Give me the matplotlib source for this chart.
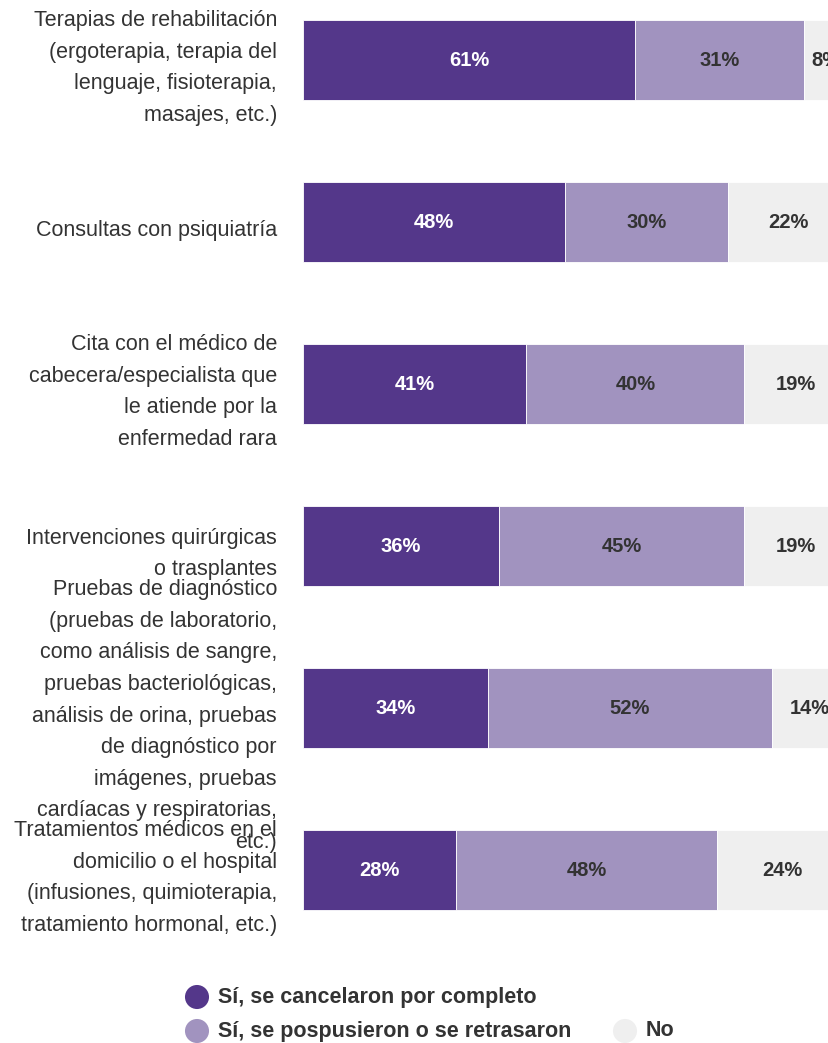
import matplotlib; matplotlib.use("Agg")
import matplotlib.pyplot as plt
import matplotlib.transforms as mtransforms

plt.rcParams["font.family"] = ["Liberation Sans", "DejaVu Sans"]

categories = [
    "Terapias de rehabilitación\n(ergoterapia, terapia del\nlenguaje, fisioterapia,\nmasajes, etc.)",
    "Consultas con psiquiatría",
    "Cita con el médico de\ncabecera/especialista que\nle atiende por la\nenfermedad rara",
    "Intervenciones quirúrgicas\no trasplantes",
    "Pruebas de diagnóstico\n(pruebas de laboratorio,\ncomo análisis de sangre,\npruebas bacteriológicas,\nanálisis de orina, pruebas\nde diagnóstico por\nimágenes, pruebas\ncardíacas y respiratorias,\netc.)",
    "Tratamientos médicos en el\ndomicilio o el hospital\n(infusiones, quimioterapia,\ntratamiento hormonal, etc.)",
]
cancelled = [61, 48, 41, 36, 34, 28]
postponed = [31, 30, 40, 45, 52, 48]
no = [8, 22, 19, 19, 14, 24]
series_names = ["Sí, se cancelaron por completo", "Sí, se pospusieron o se retrasaron", "No"]

DARK = "#54378a"; LIGHT = "#a193bf"; GREY = "#efefef"; TXT = "#333333"
W, H = 829, 1043
fig = plt.figure(figsize=(W / 100, H / 100), dpi=100)

# bars axes, in pixel placement (100% runs past the right edge like the original)
x0, pw = 303, 545
ytop, ybot = -21, 951
ax = fig.add_axes([x0 / W, 1 - ybot / H, pw / W, (ybot - ytop) / H])
ax.set_xlim(0, 100)
ax.set_ylim(len(categories) - 0.5, -0.5)
ax.axis("off")

ys = list(range(len(categories)))
left = [0] * len(ys)
for vals, col, tc in [(cancelled, DARK, "white"), (postponed, LIGHT, TXT), (no, GREY, TXT)]:
    ax.barh(ys, vals, left=left, height=0.494, color=col, edgecolor="white", linewidth=0.6)
    for y, v, l in zip(ys, vals, left):
        ax.text(l + v / 2, y, f"{v}%", ha="center", va="center", color=tc,
                fontsize=14.5, fontweight="bold", clip_on=False)
    left = [a + b for a, b in zip(left, vals)]

# category labels, right aligned left of the bars
tr = mtransforms.blended_transform_factory(fig.transFigure, ax.transData)
for y, c in zip(ys, categories):
    ax.text(277 / W, y + 0.05, c, transform=tr, ha="right", va="center",
            color=TXT, fontsize=15.5, linespacing=1.66)

# legend drawn by hand
lg = fig.add_axes([0, 0, 1, 1]); lg.set_xlim(0, W); lg.set_ylim(H, 0); lg.axis("off")
items = [(197, 997, DARK), (197, 1031, LIGHT), (625, 1031, GREY)]
for (lx, ly, col), name in zip(items, series_names):
    lg.scatter([lx], [ly], s=300, color=col, edgecolors="none")
    lg.text(lx + 21, ly, name, ha="left", va="center", color=TXT, fontsize=15.5, fontweight="bold")

fig.savefig("out.png", dpi=100, facecolor="white")
